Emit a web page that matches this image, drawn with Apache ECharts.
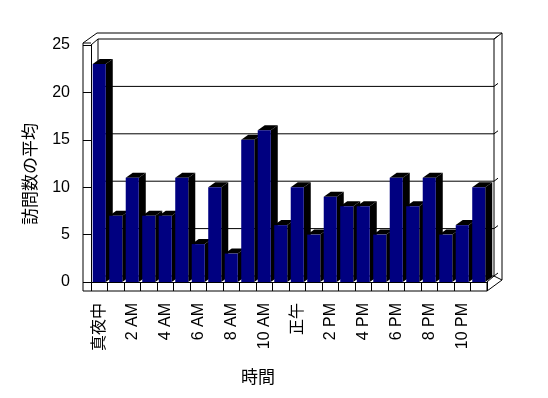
<!DOCTYPE html>
<html>
<head>
<meta charset="utf-8">
<script src="https://cdn.jsdelivr.net/npm/echarts@6/dist/echarts.min.js"></script>
<style>
  html, body { margin: 0; padding: 0; background: #fff; }
  #chart { width: 548px; height: 398px; }
</style>
</head>
<body>
<div id="chart"></div>
<script>
// hours of the day, one label every two hours is shown
const hours = [
  '真夜中', '1 AM', '2 AM', '3 AM', '4 AM', '5 AM', '6 AM', '7 AM', '8 AM', '9 AM', '10 AM', '11 AM',
  '正午', '1 PM', '2 PM', '3 PM', '4 PM', '5 PM', '6 PM', '7 PM', '8 PM', '9 PM', '10 PM', '11 PM'
]
// average number of visits per hour
const visits = [23, 7, 11, 7, 7, 11, 4, 10, 3, 15, 16, 6, 10, 5, 9, 8, 8, 5, 11, 8, 11, 5, 6, 10]
const yTicks = [0, 5, 10, 15, 20, 25]

const FONT = '"Liberation Sans", "Noto Sans CJK JP", sans-serif'
const NAVY = '#000080'
const DEPTH = [7, -6]   // back wall offset
const BAR_DEPTH = [7, -5]

const chart = echarts.init(document.getElementById('chart'))

// walls, floor and back-wall gridlines
function renderFrame(params, api) {
  const cs = params.coordSys
  const L = cs.x, R = cs.x + cs.width, T = cs.y, B = cs.y + cs.height
  const dx = DEPTH[0], dy = DEPTH[1]
  const line = (x1, y1, x2, y2) => ({
    type: 'line',
    shape: { x1, y1, x2, y2 },
    style: { stroke: '#000', lineWidth: 1 }
  })
  const children = []
  // outer outline
  children.push({
    type: 'polyline',
    shape: {
      points: [
        [L - 8, T - 2], [L - 8, B + 9], [R, B + 9], [R + 15, B - 2],
        [R + 15, T - 12], [L + 6, T - 12], [L - 8, T - 2]
      ]
    },
    style: { stroke: '#000', fill: null, lineWidth: 1 }
  })
  children.push(line(L - 8, T - 2, L, T - 2))
  children.push(line(L, T, L + dx, T + dy))
  children.push(line(L + dx, T + dy, L + dx, B + dy))
  children.push(line(R + dx, T + dy, R + dx, B + dy))
  children.push(line(R + dx, T + dy, R + 15, T - 12))
  children.push(line(R, B, R + dx, B + dy))
  children.push(line(R, B, R, B + 9))
  children.push(line(R + dx, B + dy, R + 15, B - 2))
  // gridlines on the back wall
  yTicks.forEach(v => {
    const gy = api.coord([0, v])[1] + dy
    children.push(line(L + dx, gy, R + dx, gy))
    children.push(line(R + dx, gy, R + dx + 4, gy - 3))
  })
  return { type: 'group', children }
}

// one 3D bar: navy front, black side and top
function renderBar(params, api) {
  const idx = api.value(0)
  const base = api.coord([idx, 0])
  const top = api.coord([idx, api.value(1)])
  const bw = api.size([1, 0])[0] * 0.79
  const x0 = base[0] - bw / 2
  const x1 = x0 + bw
  const dx = BAR_DEPTH[0], dy = BAR_DEPTH[1]
  return {
    type: 'group',
    children: [
      {
        type: 'polygon',
        shape: { points: [[x1, top[1]], [x1 + dx, top[1] + dy], [x1 + dx, base[1] + dy], [x1, base[1]]] },
        style: { fill: '#000' }
      },
      {
        type: 'polygon',
        shape: { points: [[x0, top[1]], [x0 + dx, top[1] + dy], [x1 + dx, top[1] + dy], [x1, top[1]]] },
        style: { fill: '#000' }
      },
      {
        type: 'rect',
        shape: { x: x0, y: top[1], width: bw, height: base[1] - top[1] },
        style: { fill: NAVY }
      }
    ]
  }
}

const option = {
  animation: false,
  grid: { left: 91, right: 61, top: 45, bottom: 116 },
  xAxis: {
    type: 'category',
    data: hours,
    axisLine: { show: true, lineStyle: { color: '#000', width: 1 } },
    axisTick: { show: true, interval: 0, length: 9, lineStyle: { color: '#000' } },
    axisLabel: {
      interval: 1,
      rotate: 90,
      margin: 21,
      color: '#000',
      fontSize: 16,
      fontFamily: FONT
    },
    splitLine: { show: false }
  },
  yAxis: {
    type: 'value',
    min: 0,
    max: 25,
    interval: 5,
    axisLine: { show: true, lineStyle: { color: '#000', width: 1 } },
    axisTick: { show: true, length: 8, lineStyle: { color: '#000' } },
    axisLabel: { margin: 21, color: '#000', fontSize: 16, fontFamily: FONT },
    splitLine: { show: false }
  },
  graphic: [
    {
      type: 'text',
      x: 30,
      y: 174,
      rotation: Math.PI / 2,
      style: {
        text: '訪問数の平均',
        fill: '#000',
        font: '17px "Noto Sans CJK JP", sans-serif',
        align: 'center',
        verticalAlign: 'middle'
      }
    },
    {
      type: 'text',
      x: 258,
      y: 377,
      style: {
        text: '時間',
        fill: '#000',
        font: '17px "Noto Sans CJK JP", sans-serif',
        align: 'center',
        verticalAlign: 'middle'
      }
    }
  ],
  series: [
    {
      type: 'custom',
      z: 1,
      silent: true,
      renderItem: renderFrame,
      data: [[0, 0]]
    },
    {
      type: 'custom',
      z: 2,
      renderItem: renderBar,
      encode: { x: 0, y: 1 },
      data: visits.map((v, i) => [i, v])
    }
  ]
}

chart.setOption(option)
</script>
</body>
</html>
